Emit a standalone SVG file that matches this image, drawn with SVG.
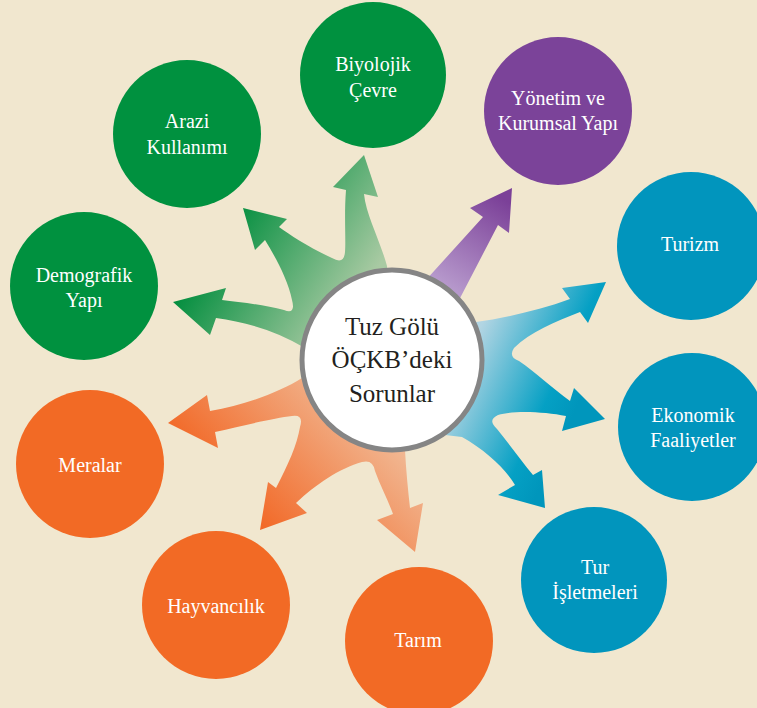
<svg xmlns="http://www.w3.org/2000/svg" width="757" height="708" viewBox="0 0 757 708">
<style>
.bg{fill:#f1e7cf}
.green{fill:#00913f}
.purple{fill:#7b4399}
.blue{fill:#0195bd}
.orange{fill:#f26a25}
.lbl{font-family:"Liberation Serif","Times New Roman",serif;font-size:20px;fill:#ffffff;text-anchor:middle}
.ctr{font-family:"Liberation Serif","Times New Roman",serif;font-size:25px;fill:#231f20;text-anchor:middle}
.hub{fill:#ffffff;stroke:#858585;stroke-width:5}
</style>
<defs>
<linearGradient id="gGreen" gradientUnits="userSpaceOnUse" x1="180" y1="200" x2="380" y2="330">
<stop offset="0.2" stop-color="#008d3d"/>
<stop offset="0.85" stop-color="#a9caa3"/>
</linearGradient>
<linearGradient id="gOrange" gradientUnits="userSpaceOnUse" x1="230" y1="540" x2="400" y2="380">
<stop offset="0.1" stop-color="#f26522"/>
<stop offset="0.85" stop-color="#f1bd9a"/>
</linearGradient>
<linearGradient id="gBlue" gradientUnits="userSpaceOnUse" x1="470" y1="350" x2="580" y2="400">
<stop offset="0" stop-color="#b2d5e3"/>
<stop offset="0.75" stop-color="#05a0c4"/>
<stop offset="1" stop-color="#0096bc"/>
</linearGradient>
<linearGradient id="gPurple" gradientUnits="userSpaceOnUse" x1="445" y1="295" x2="505" y2="200">
<stop offset="0" stop-color="#bba0d0"/>
<stop offset="1" stop-color="#7b4098"/>
</linearGradient>
</defs>
<rect class="bg" x="0" y="0" width="757" height="708"/>
<g id="connectors">
<path id="arrows-green" fill="url(#gGreen)" d="M392 360 L387 266 C380 240 366 215 364 194 L378 197 L364 155 L333 187 L346 190 C344 215 346 240 345 252 Q344 265 332 258 C310 248 290 235 279 227 L287 219 L243 208 L255 250 L265 240 C276 258 288 280 292 300 Q296 315 284 310 C265 305 240 302 222 300 L226 288 L173 302 L210 335 L216 318 C245 322 275 330 305 348 Z"/>
<path id="arrows-orange" fill="url(#gOrange)" d="M392 360 L302 378 C280 392 245 405 210 411 L207 395 L168 423 L218 448 L215 432 C245 425 275 418 292 416 Q304 414 300 427 C297 445 288 465 276 488 L268 482 L260 530 L307 513 L296 503 C315 485 340 468 362 462 Q373 459 375 471 C380 485 388 500 393 514 L377 520 L415 552 L423 503 L410 508 C408 490 406 470 405 450 Z"/>
<path id="arrow-purple" fill="url(#gPurple)" d="M415 292 L483 217 L470 208 L512 188 L509 233 L498 225 L458 302 Z"/>
<path id="arrows-blue" fill="url(#gBlue)" d="M392 360 L476 322 C505 318 540 310 570 299 L562 288 L606 282 L588 323 L580 312 C555 322 530 332 514 348 Q508 357 519 361 C535 372 552 388 570 401 L574 388 L605 419 L562 431 L566 416 C545 412 515 410 498 415 Q487 420 497 429 C510 445 522 462 533 475 L542 470 L545 508 L498 495 L515 485 C505 468 485 450 462 437 L445 435 Z"/>
</g>
<g id="node-biyolojik"><circle class="green" cx="373" cy="75" r="73"/><text class="lbl" x="373" y="71">Biyolojik</text><text class="lbl" x="373" y="97">Çevre</text></g>
<g id="node-arazi"><circle class="green" cx="187" cy="134" r="74"/><text class="lbl" x="187" y="128">Arazi</text><text class="lbl" x="187" y="154">Kullanımı</text></g>
<g id="node-demografik"><circle class="green" cx="84" cy="286" r="74"/><text class="lbl" x="84" y="282">Demografik</text><text class="lbl" x="84" y="307">Yapı</text></g>
<g id="node-yonetim"><circle class="purple" cx="558" cy="111" r="74"/><text class="lbl" x="558" y="105">Yönetim ve</text><text class="lbl" x="558" y="130">Kurumsal Yapı</text></g>
<g id="node-turizm"><circle class="blue" cx="691" cy="246" r="74"/><text class="lbl" x="690" y="251">Turizm</text></g>
<g id="node-ekonomik"><circle class="blue" cx="692" cy="427" r="74"/><text class="lbl" x="693" y="422">Ekonomik</text><text class="lbl" x="693" y="447">Faaliyetler</text></g>
<g id="node-tur"><circle class="blue" cx="594" cy="580" r="73"/><text class="lbl" x="595" y="574">Tur</text><text class="lbl" x="595" y="599">İşletmeleri</text></g>
<g id="node-tarim"><circle class="orange" cx="419" cy="641" r="74"/><text class="lbl" x="418" y="647">Tarım</text></g>
<g id="node-hayvancilik"><circle class="orange" cx="216" cy="605" r="74"/><text class="lbl" x="216" y="613">Hayvancılık</text></g>
<g id="node-meralar"><circle class="orange" cx="90" cy="464" r="74"/><text class="lbl" x="90" y="472">Meralar</text></g>
<g id="node-center"><circle class="hub" cx="392" cy="360" r="90"/><text class="ctr" x="392" y="335">Tuz Gölü</text><text class="ctr" x="392" y="368">ÖÇKB’deki</text><text class="ctr" x="392" y="402">Sorunlar</text></g>
</svg>
